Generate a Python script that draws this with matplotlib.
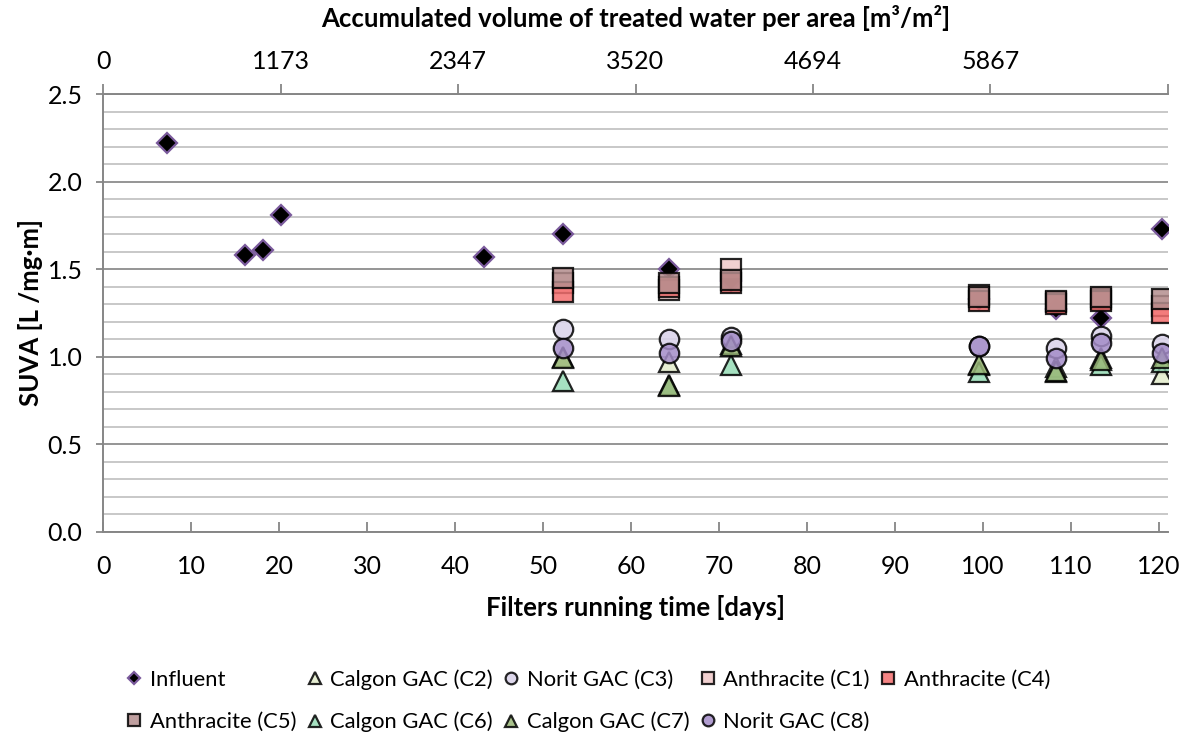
import numpy as np
import matplotlib
matplotlib.use("Agg")
import matplotlib.pyplot as plt

plt.rcParams['font.family'] = ['Lato', 'DejaVu Sans']

# sampling days (running time of the filters)
days = [7.2, 16.1, 18.1, 20.2, 43.3, 52.2, 64.3, 71.3, 99.6, 108.3, 113.4, 120.4]
filter_days = [52.2, 64.3, 71.3, 99.6, 108.3, 113.4, 120.4]

influent = [2.22, 1.58, 1.61, 1.81, 1.57, 1.70, 1.50, 1.43, 1.33, 1.27, 1.22, 1.73]
calgon_c2 = [1.00, 0.97, 1.07, 0.95, 0.94, 0.99, 0.90]
norit_c3 = [1.16, 1.10, 1.11, 1.06, 1.05, 1.12, 1.07]
anthr_c1 = [1.42, 1.38, 1.50, 1.35, 1.31, 1.33, 1.29]
anthr_c4 = [1.37, 1.40, 1.42, 1.32, 1.30, 1.32, 1.25]
anthr_c5 = [1.45, 1.42, 1.44, 1.34, 1.32, 1.34, 1.33]
calgon_c6 = [0.86, 0.84, 0.95, 0.91, 0.91, 0.95, 0.97]
calgon_c7 = [0.99, 0.83, 1.06, 0.96, 0.92, 0.98, 0.99]
norit_c8 = [1.05, 1.02, 1.09, 1.06, 0.99, 1.08, 1.02]

top_ticks = [0, 1173.3, 2346.7, 3520, 4693.3, 5866.7, 7040]
top_labels = ["0", "1173", "2347", "3520", "4694", "5867", ""]

series = [
    ("Calgon GAC (C2)", calgon_c2, "^", "#e3edcc"),
    ("Norit GAC (C3)", norit_c3, "o", "#d9d2e9"),
    ("Anthracite (C1)", anthr_c1, "s", "#efc8c8"),
    ("Anthracite (C4)", anthr_c4, "s", "#f46e6e"),
    ("Anthracite (C5)", anthr_c5, "s", "#b48e8e"),
    ("Calgon GAC (C6)", calgon_c6, "^", "#97dcb6"),
    ("Calgon GAC (C7)", calgon_c7, "^", "#9ab878"),
    ("Norit GAC (C8)", norit_c8, "o", "#a48cc8"),
]

axis_grey = "#868686"

fig = plt.figure(figsize=(11.9, 7.38), dpi=100)
ax = fig.add_axes([0.0868, 0.2795, 0.8945, 0.593])

handles = []
h, = ax.plot(days, influent, linestyle="none", marker="D", ms=10,
             mfc="black", mec="#7a5a9c", mew=1.6, label="Influent", zorder=3)
handles.append(h)
for name, vals, mk, col in series:
    h, = ax.plot(filter_days, vals, linestyle="none", marker=mk, ms=14,
                 mfc=col, mec="black", mew=1.6, alpha=0.85, label=name, zorder=3)
    handles.append(h)

ax.set_xlim(0, 121)
ax.set_ylim(0, 2.5)
ax.set_xticks(np.arange(0, 121, 10))
ax.set_yticks(np.arange(0, 2.51, 0.5))
ax.set_yticks(np.arange(0, 2.51, 0.1), minor=True)
ax.yaxis.set_major_formatter(matplotlib.ticker.FormatStrFormatter("%.1f"))
ax.grid(axis="y", which="minor", color="#c4c4c4", lw=1.3, zorder=0)
ax.grid(axis="y", which="major", color="#8c8c8c", lw=1.3, zorder=0)
ax.set_axisbelow(True)

for s in ["top", "right"]:
    ax.spines[s].set_visible(False)
for s in ["left", "bottom"]:
    ax.spines[s].set_color(axis_grey)
    ax.spines[s].set_linewidth(1.4)
ax.tick_params(axis="x", direction="in", length=7, width=1.3, color=axis_grey,
               labelsize=18, pad=17)
ax.tick_params(axis="y", which="major", direction="out", length=5, width=1.3,
               color=axis_grey, labelsize=18, pad=10)
ax.tick_params(axis="y", which="minor", length=0)

ax.set_xlabel("Filters running time [days]", fontsize=18.5, fontweight="bold", labelpad=12)
ax.set_ylabel("SUVA [L /mg\u00b7m]", fontsize=18.5, fontweight="bold", labelpad=3)

top = ax.twiny()
top.set_xlim(0, 7040)
top.set_xticks(top_ticks)
top.set_xticklabels(top_labels)
for s in ["bottom", "left", "right"]:
    top.spines[s].set_visible(False)
top.spines["top"].set_color(axis_grey)
top.spines["top"].set_linewidth(1.4)
top.tick_params(axis="x", direction="out", length=7, width=1.3, color=axis_grey,
                labelsize=18, pad=8)
top.set_xlabel("Accumulated volume of treated water per area [m\u00b3/m\u00b2]",
               fontsize=18.5, fontweight="bold", labelpad=17)

fig.legend(handles=[handles[0], handles[5], handles[1], handles[6], handles[2],
                    handles[7], handles[3], handles[8], handles[4]],
           ncol=5, loc="upper left", bbox_to_anchor=(0.098, 0.105),
           frameon=False, fontsize=15.8, markerscale=0.6, handlelength=0.8,
           handletextpad=0.3, columnspacing=0.45, labelspacing=1.0,
           borderaxespad=0)

fig.savefig("out.png", dpi=100)
